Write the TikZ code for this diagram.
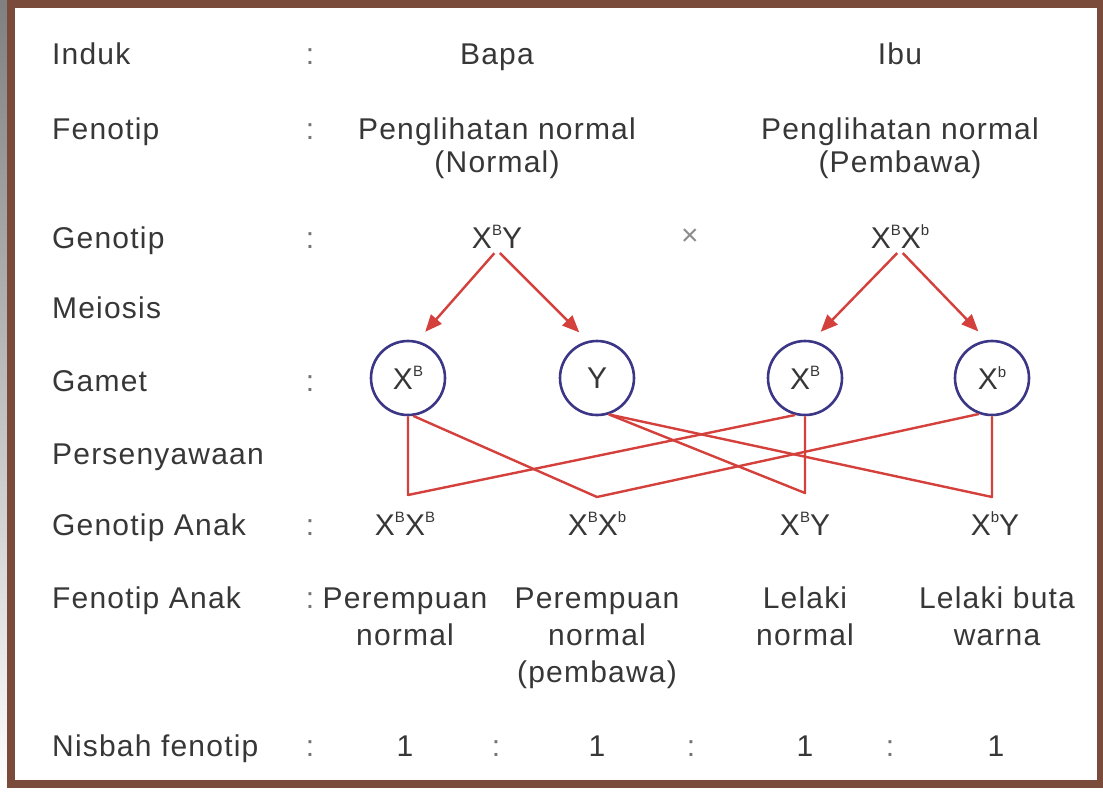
\documentclass[tikz,border=0pt]{standalone}
\usepackage{fontspec}
\setmainfont{Liberation Sans}[LetterSpace=4]
\usetikzlibrary{arrows.meta}
\definecolor{frame}{RGB}{122,74,58}
\definecolor{shade}{RGB}{236,200,186}
\definecolor{wire}{RGB}{212,64,60}
\definecolor{ring}{RGB}{60,54,134}
\definecolor{ink}{RGB}{55,55,55}
\newcommand{\allele}[1]{X\raisebox{0.42em}{\fontsize{15}{15}\selectfont #1}}
\tikzset{
  txt/.style={font=\fontsize{30}{37}\selectfont, text=ink, inner sep=2pt, anchor=base},
  row/.style={txt, anchor=base west},
  colon/.style={txt, text=black!55},
  gamete/.style={circle, draw=ring, line width=2.6pt, minimum size=74pt, inner sep=0pt, font=\fontsize{30}{37}\selectfont, text=ink},
  wire/.style={draw=wire, line width=2.4pt, line join=round},
  meio/.style={wire, -{Triangle[length=17pt,width=14pt]}, shorten <=4pt, shorten >=12pt}
}
\begin{document}
\begin{tikzpicture}[x=1pt, y=-1pt]
    % Frame:
    \fill[shade] (0,0) rectangle (1103,795);
    \fill[frame] (7,0) rectangle (1103,788);
    \fill[white] (15,8) rectangle (1097,780);
    % Row labels and colons:
    \node[row] (lInduk) at (50,64) {Induk};
    \node[row] (lFeno) at (50,139) {Fenotip};
    \node[row] (lGeno) at (50,248) {Genotip};
    \node[row] (lMeio) at (50,318) {Meiosis};
    \node[row] (lGamet) at (50,391) {Gamet};
    \node[row] (lPers) at (50,464) {Persenyawaan};
    \node[row] (lGenoA) at (50,535) {Genotip Anak};
    \node[row] (lFenoA) at (50,608) {Fenotip Anak};
    \node[row] (lNisbah) at (50,756) {Nisbah fenotip};
    \node[colon] (c1) at (310,64) {:};
    \node[colon] (c2) at (310,139) {:};
    \node[colon] (c3) at (310,248) {:};
    \node[colon] (c4) at (310,391) {:};
    \node[colon] (c5) at (310,535) {:};
    \node[colon] (c6) at (310,608) {:};
    \node[colon] (c7) at (310,756) {:};
    % Parents (multi-line nodes sit on their last line):
    \node[txt] (bapa) at (497,64) {Bapa};
    \node[txt] (ibu) at (900,64) {Ibu};
    \node[txt, font=\fontsize{30}{33}\selectfont, align=center] (fBapa) at (497,172) {Penglihatan normal\\(Normal)};
    \node[txt, font=\fontsize{30}{33}\selectfont, align=center] (fIbu) at (900,172) {Penglihatan normal\\(Pembawa)};
    \node[txt] (pB) at (497,248) {\allele{B}Y};
    \node[txt, text=black!45, anchor=center] (cross) at (690,237) {×};
    \node[txt] (pI) at (900,248) {\allele{B}\allele{b}};
    % Gametes:
    \node[gamete] (gB1) at (408,378) {\allele{B}};
    \node[gamete] (gY) at (597,378) {Y};
    \node[gamete] (gB2) at (805,378) {\allele{B}};
    \node[gamete] (gb) at (992,378) {\allele{b}};
    \draw[meio] (pB.south) -- (gB1.76);
    \draw[meio] (pB.south) -- (gY.104);
    \draw[meio] (pI.south) -- (gB2.79);
    \draw[meio] (pI.south) -- (gb.98);
    % Fertilisation wires:
    \coordinate (j1) at (408,495);
    \coordinate (j2) at (597,497);
    \coordinate (j3) at (805,493);
    \coordinate (j4) at (992,497);
    \draw[wire] (gB1.south) -- (j1) -- (gB2.-105);
    \draw[wire] (gB1.-82) -- (j2) -- (gb.-110);
    \draw[wire] (gY.-72) -- (j3) -- (gB2.south);
    \draw[wire] (gY.-72) -- (j4) -- (gb.south);
    % Offspring:
    \node[txt] (kBB) at (405,535) {\allele{B}\allele{B}};
    \node[txt] (kBb) at (597,535) {\allele{B}\allele{b}};
    \node[txt] (kBY) at (805,535) {\allele{B}Y};
    \node[txt] (kbY) at (995,535) {\allele{b}Y};
    \node[txt, align=center] (fBB) at (405,645) {Perempuan\\normal};
    \node[txt, align=center] (fBb) at (597,682) {Perempuan\\normal\\(pembawa)};
    \node[txt, align=center] (fBY) at (805,645) {Lelaki\\normal};
    \node[txt, align=center] (fbY) at (997,645) {Lelaki buta\\warna};
    % Ratio:
    \node[txt] (r1) at (405,756) {1};
    \node[colon] (c8) at (496,756) {:};
    \node[txt] (r2) at (597,756) {1};
    \node[colon] (c9) at (691,756) {:};
    \node[txt] (r3) at (805,756) {1};
    \node[colon] (c10) at (890,756) {:};
    \node[txt] (r4) at (996,756) {1};
\end{tikzpicture}
\end{document}
